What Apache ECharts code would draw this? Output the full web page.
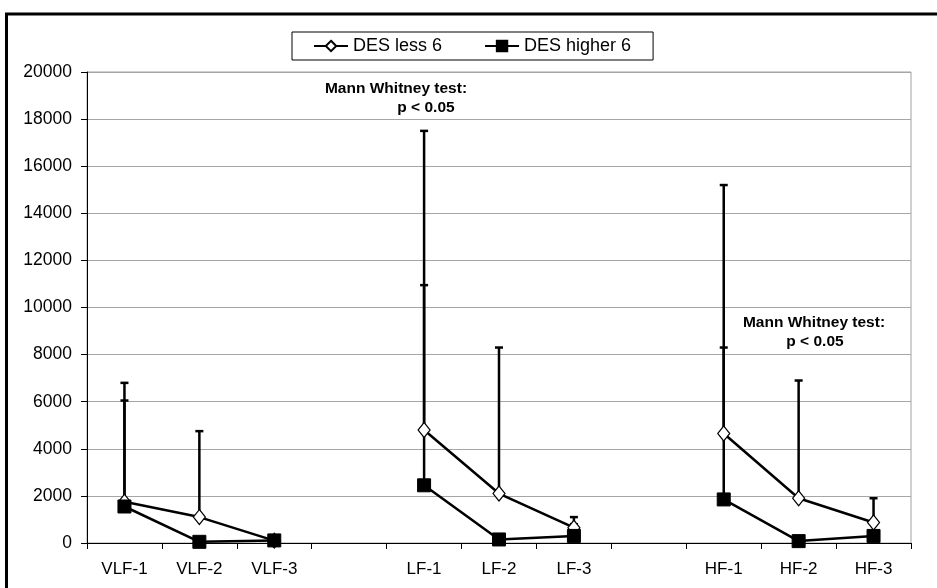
<!DOCTYPE html>
<html>
<head>
<meta charset="utf-8">
<script src="https://cdn.jsdelivr.net/npm/echarts@6/dist/echarts.min.js"></script>
<style>
html,body{margin:0;padding:0;background:#fff;}
#chart{width:937px;height:588px;}
</style>
</head>
<body>
<div id="chart"></div>
<script>
var categories = ['VLF-1','VLF-2','VLF-3','','LF-1','LF-2','LF-3','','HF-1','HF-2','HF-3'];
var yTicks = [0,2000,4000,6000,8000,10000,12000,14000,16000,18000,20000];
var lessMeans   = [1750, 1100, 100, null, 4800, 2100, 650, null, 4650, 1900, 870];
var higherMeans = [1550,   50, 110, null, 2450,  150, 300, null, 1850,   80, 300];
var lessUpper   = [6800, 4750, null, null, 17500, 8300, 1100, null, 15200, 6900, 1900];
var higherUpper = [6050, null, null, null, 10950, null,  800, null,  8300, null, null];
var seriesNames = ['DES less 6', 'DES higher 6'];
var noteLine1 = 'Mann Whitney test:';
var noteLine2 = 'p < 0.05';

function errData(means, upper) {
  var out = [];
  for (var i = 0; i < means.length; i++) {
    if (means[i] != null && upper[i] != null) out.push([i, means[i], upper[i]]);
  }
  return out;
}

function renderErr(params, api) {
  var x = api.value(0);
  var lo = api.coord([x, api.value(1)]);
  var hi = api.coord([x, api.value(2)]);
  var hw = 4;
  var st = {stroke: '#000', lineWidth: 2.5};
  return {
    type: 'group',
    children: [
      {type: 'line', shape: {x1: lo[0], y1: lo[1], x2: hi[0], y2: hi[1]}, style: st},
      {type: 'line', shape: {x1: hi[0] - hw, y1: hi[1], x2: hi[0] + hw, y2: hi[1]}, style: st}
    ]
  };
}

var chart = echarts.init(document.getElementById('chart'), null, {renderer: 'canvas'});
var font = 'Liberation Sans, Arial, sans-serif';
var noteFont = 'bold 15.5px ' + font;
chart.setOption({
  backgroundColor: '#fff',
  animation: false,
  textStyle: {fontFamily: font},
  grid: {left: 87, right: 26, top: 72, bottom: 45, show: true, borderColor: '#a0a0a0', borderWidth: 1, backgroundColor: 'transparent'},
  legend: {
    data: seriesNames,
    left: 292, top: 32,
    padding: [5, 22, 5, 21],
    itemGap: 42,
    itemWidth: 34, itemHeight: 13,
    borderColor: '#000', borderWidth: 1,
    textStyle: {fontSize: 18, color: '#000', fontFamily: font},
    selectedMode: false
  },
  xAxis: {
    type: 'category',
    data: categories,
    boundaryGap: true,
    axisLine: {lineStyle: {color: '#000', width: 1}},
    axisTick: {show: true, length: 6, lineStyle: {color: '#000'}, interval: 0},
    axisLabel: {fontSize: 17, color: '#000', margin: 18, interval: 0, fontFamily: font},
    splitLine: {show: false}
  },
  yAxis: {
    type: 'value',
    min: yTicks[0], max: yTicks[yTicks.length - 1], interval: 2000,
    axisLine: {show: true, lineStyle: {color: '#000', width: 1}},
    axisTick: {show: true, length: 6, lineStyle: {color: '#000'}},
    axisLabel: {fontSize: 17.5, color: '#000', margin: 15, fontFamily: font,
      formatter: function (v) { return String(v); }},
    splitLine: {show: true, lineStyle: {color: '#a6a6a6', width: 1}}
  },
  graphic: [
    {type: 'rect', silent: true, z: 100, shape: {x: 6.5, y: 14, width: 2000, height: 2000},
     style: {fill: 'none', stroke: '#000', lineWidth: 3}},
    {type: 'text', z: 50, x: 396, y: 89, style: {text: noteLine1, font: noteFont, fill: '#000', textAlign: 'center', textVerticalAlign: 'middle'}},
    {type: 'text', z: 50, x: 426, y: 108, style: {text: noteLine2, font: noteFont, fill: '#000', textAlign: 'center', textVerticalAlign: 'middle'}},
    {type: 'text', z: 50, x: 814, y: 323, style: {text: noteLine1, font: noteFont, fill: '#000', textAlign: 'center', textVerticalAlign: 'middle'}},
    {type: 'text', z: 50, x: 815, y: 342, style: {text: noteLine2, font: noteFont, fill: '#000', textAlign: 'center', textVerticalAlign: 'middle'}}
  ],
  series: [
    {type: 'custom', name: 'errLess', renderItem: renderErr, data: errData(lessMeans, lessUpper), z: 1, silent: true},
    {type: 'custom', name: 'errHigher', renderItem: renderErr, data: errData(higherMeans, higherUpper), z: 1, silent: true},
    {
      type: 'line', name: seriesNames[1], data: higherMeans, z: 3,
      symbol: 'rect', symbolSize: 13, showAllSymbol: true,
      lineStyle: {color: '#000', width: 2.5},
      itemStyle: {color: '#000', borderColor: '#000', borderWidth: 1}
    },
    {
      type: 'line', name: seriesNames[0], data: lessMeans, z: 2,
      symbol: 'diamond', symbolSize: [12, 15], showAllSymbol: true,
      lineStyle: {color: '#000', width: 2.5},
      itemStyle: {color: '#fff', borderColor: '#000', borderWidth: 1.2}
    }
  ]
});
</script>
</body>
</html>
